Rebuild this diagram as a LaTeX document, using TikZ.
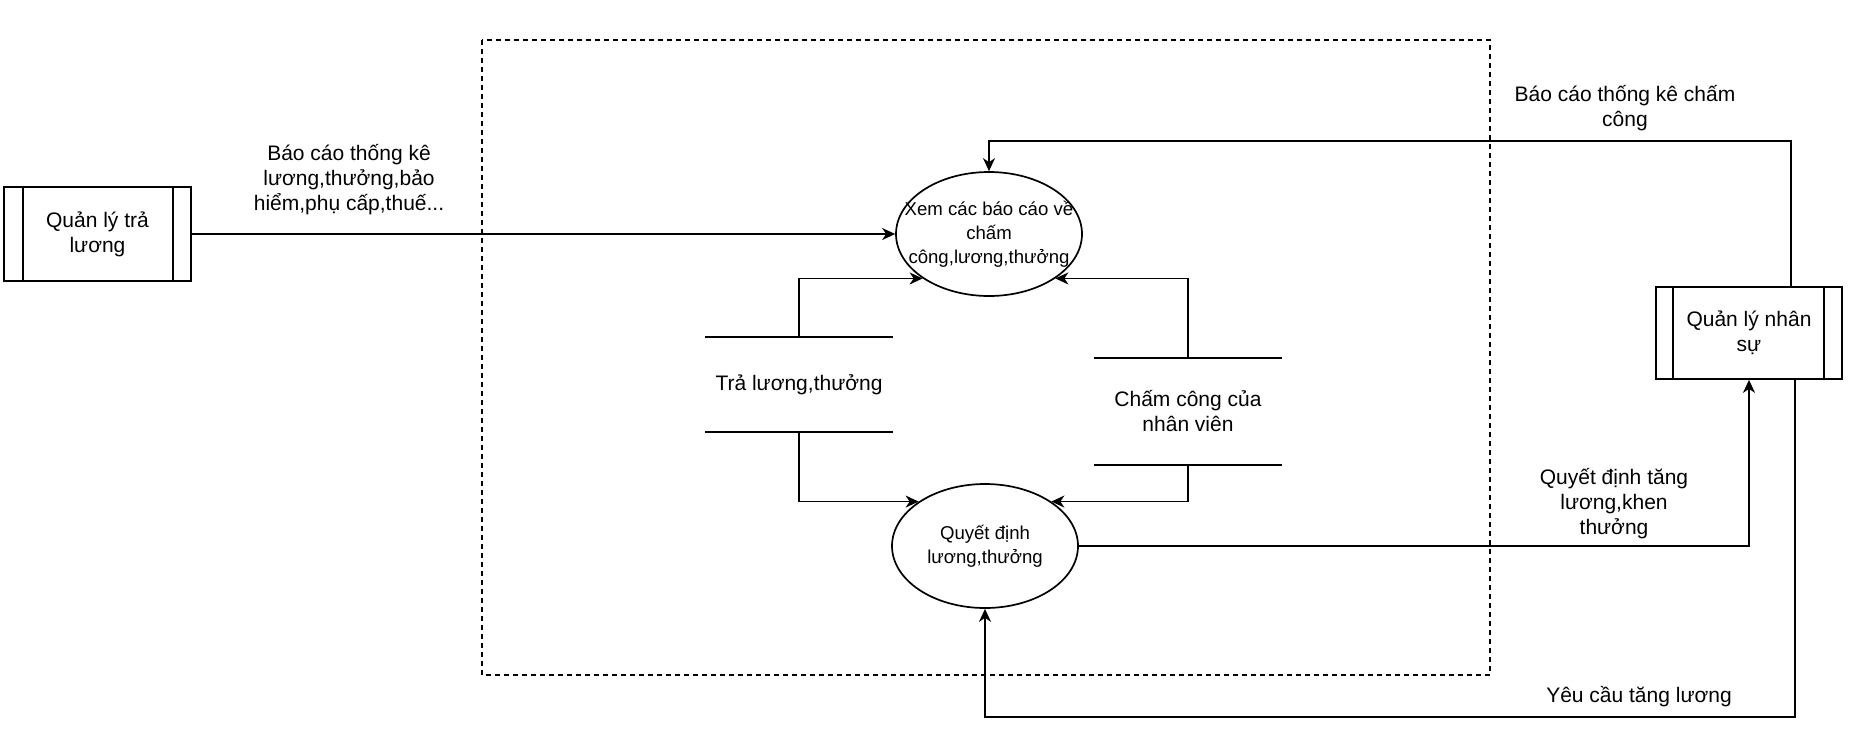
\documentclass[tikz,border=0pt]{standalone}
\usepackage{fontspec}
\setmainfont{Liberation Sans}
\usetikzlibrary{shapes.geometric,arrows.meta,calc}
\begin{document}
\begin{tikzpicture}[x=0.5pt,y=-0.5pt,
  line width=0.85pt,
  lbl/.style={align=center,font=\fontsize{10.5}{12.5}\selectfont,inner sep=0pt},
  inlbl/.style={align=center,font=\fontsize{9.3}{12}\selectfont,inner sep=0pt},
  proc/.style={draw,ellipse,minimum width=93pt,minimum height=62pt,inner sep=0pt},
  ext/.style={draw,minimum width=93.5pt,minimum height=47pt,inner sep=0pt,align=center,font=\fontsize{10.5}{12.5}\selectfont},
  store/.style={minimum width=93pt,inner sep=0pt,align=center,font=\fontsize{10.5}{12.5}\selectfont},
  arr/.style={-{Stealth[length=6.5pt,width=6pt,inset=2pt]}},
  bound/.style={dash pattern=on 2.5pt off 2pt},
]
\useasboundingbox (0,0) rectangle (1853,746);
\draw[bound] (482,40) rectangle (1490,675);

% external entities
\node[ext] (lbox) at (97.5,234) {Quản lý trả\\lương};
\draw ([xshift=10pt]lbox.north west) -- ([xshift=10pt]lbox.south west);
\draw ([xshift=-9.5pt]lbox.north east) -- ([xshift=-9.5pt]lbox.south east);

\node[ext,minimum width=93pt,minimum height=46pt] (rbox) at (1749,333) {Quản lý nhân\\sự};
\draw ([xshift=9pt]rbox.north west) -- ([xshift=9pt]rbox.south west);
\draw ([xshift=-9.5pt]rbox.north east) -- ([xshift=-9.5pt]rbox.south east);

% processes
\node[proc,label={[inlbl]center:Xem các báo cáo về\\chấm\\công,lương,thưởng}] (e1) at (989,234) {};
\node[proc,label={[inlbl]center:Quyết định\\lương,thưởng}] (e2) at (985,546) {};

% data stores
\node[store,minimum height=46.5pt] (ls) at (799,384.5) {Trả lương,thưởng};
\draw (ls.north west) -- (ls.north east);
\draw (ls.south west) -- (ls.south east);
\node[store,minimum width=93.5pt,minimum height=52.5pt] (rs) at (1188,411.5) {Chấm công của\\nhân viên};
\draw (rs.north west) -- (rs.north east);
\draw (rs.south west) -- (rs.south east);

% flows
\draw[arr] (lbox.east) -- (e1.west);
\coordinate (t1) at (1791,141);
\draw[arr] (rbox.north -| t1) -- (t1) -| (e1.north);
\draw[arr] (e2.east) -| (rbox.south);
\coordinate (t2) at (1795,717);
\draw[arr] (rbox.south -| t2) -- (t2) -| (e2.south);
\draw[arr] (ls.north) |- (e1.south west);
\draw[arr] (rs.north) |- (e1.south east);
\draw[arr] (ls.south) |- (e2.north west);
\draw[arr] (rs.south) |- (e2.north east);

% flow labels
\node[lbl] (l1) at (349,180) {Báo cáo thống kê\\lương,thưởng,bảo\\hiểm,phụ cấp,thuế...};
\node[lbl] (l2) at (1625,108) {Báo cáo thống kê chấm\\công};
\node[lbl] (l3) at (1614,504) {Quyết định tăng\\lương,khen\\thưởng};
\node[lbl] (l4) at (1639,697) {Yêu cầu tăng lương};
\end{tikzpicture}
\end{document}
